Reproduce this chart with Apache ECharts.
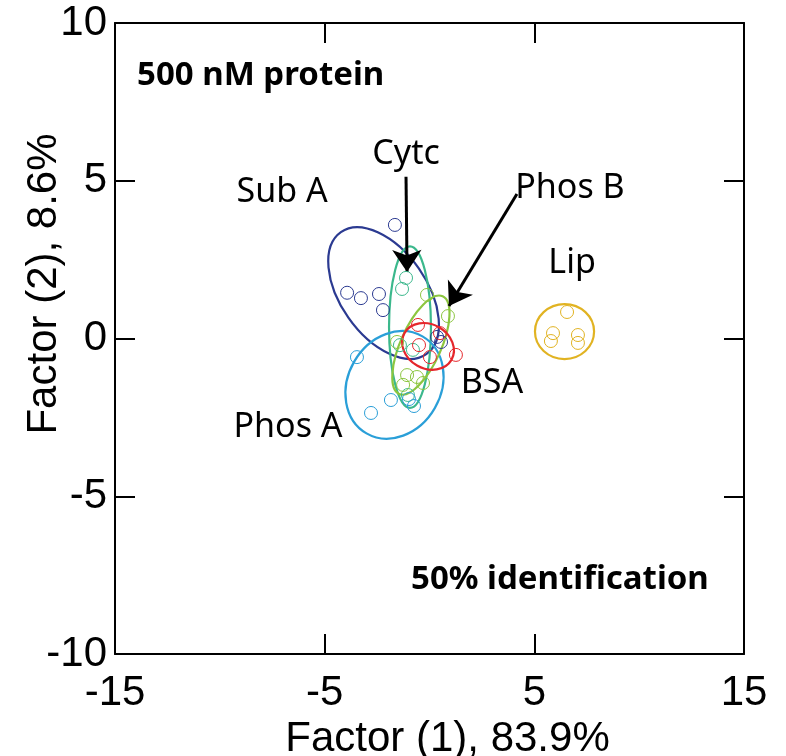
<!DOCTYPE html>
<html>
<head>
<meta charset="utf-8">
<script src="https://cdn.jsdelivr.net/npm/echarts@6/dist/echarts.min.js"></script>
<style>
  html, body { margin: 0; padding: 0; background: #fff; }
  #chart { width: 786px; height: 756px; }
</style>
</head>
<body>
<div id="chart"></div>
<script>
// axis ticks
let xTicks = [-15, -5, 5, 15];
let yTicks = [-10, -5, 0, 5, 10];

// sample points [factor1, factor2]
let subA = [[-1.65, 3.60], [-3.93, 1.45], [-3.27, 1.28], [-2.41, 1.41], [-2.22, 0.90], [0.36, 0.05], [0.55, -0.11]];
let cytc = [[-1.12, 1.92], [-1.31, 1.57], [-1.41, -0.21], [-0.79, -0.36], [-1.03, -1.79]];
let phosB = [[-0.12, 1.38], [0.88, 0.71], [-1.55, -0.11], [-1.07, -1.16], [-0.60, -1.22], [-1.26, -1.47], [-0.31, -1.41]];
let bsa = [[-0.55, 0.43], [-0.50, -0.21], [0.02, -0.59], [1.26, -0.52], [0.50, 0.17]];
let phosA = [[-3.46, -0.59], [-2.79, -2.36], [-1.84, -1.95], [-0.98, -1.92], [-0.74, -2.14]];
let lip = [[6.56, 0.84], [5.89, 0.17], [5.79, -0.08], [7.08, 0.11], [7.08, -0.14]];

// confidence ellipses [cx, cy, semiA, semiB (factor1 units), angle deg]
let subAEllipse = [-2.19, 1.44, 3.55, 2.05, -55];
let cytcEllipse = [-0.93, 0.36, 3.85, 1.0, 90];
let phosBEllipse = [-0.41, -0.21, 2.55, 0.97, 66];
let bsaEllipse = [-0.07, -0.25, 1.29, 1.05, -30];
let phosAEllipse = [-1.67, -1.47, 2.67, 2.22, 60];
let lipEllipse = [6.44, 0.22, 1.41, 1.31, 0];

// group labels and arrows
let groupNames = ['Sub A', 'Cytc', 'Phos B', 'Lip', 'BSA', 'Phos A'];
let labelPos = [[-7.03, 4.64], [-1.12, 5.85], [6.70, 4.76], [6.80, 2.37], [2.98, -1.41], [-6.75, -2.81]];
let arrows = [
    [[-1.12, 5.13], [-1.07, 2.11]],
    [[4.17, 4.58], [0.93, 1.03]]
];

let chart = echarts.init(document.getElementById('chart'));

function ellipseSeries(name, params, color) {
    return {
        name: name,
        type: 'custom',
        data: [params],
        silent: true,
        renderItem: function (p, api) {
            let c = api.coord([api.value(0), api.value(1)]);
            let unit = api.size([1, 0])[0];
            return {
                type: 'ellipse',
                x: c[0],
                y: c[1],
                rotation: api.value(4) * Math.PI / 180,
                shape: { cx: 0, cy: 0, rx: api.value(2) * unit, ry: api.value(3) * unit },
                style: { fill: 'none', stroke: color, lineWidth: 2.2 }
            };
        }
    };
}

function pointSeries(name, data, color) {
    return {
        name: name,
        type: 'scatter',
        data: data,
        symbol: 'circle',
        symbolSize: 13,
        itemStyle: { color: 'rgba(0,0,0,0)', borderColor: color, borderWidth: 1, opacity: 1 }
    };
}

let colors = {
    subA: '#2b3a91',
    cytc: '#3bb88c',
    phosB: '#8cc63f',
    bsa: '#e5262b',
    phosA: '#2a9fd8',
    lip: '#e1b322'
};

let tickFont = { color: '#000', fontSize: 42, fontFamily: 'Liberation Sans' };
let axisLine = { show: true, onZero: false, lineStyle: { color: '#000', width: 2 } };
let axisTick = { show: true, inside: true, length: 20, lineStyle: { color: '#000', width: 2 } };

let option = {
    backgroundColor: '#fff',
    animation: false,
    grid: { left: 115, right: 42, top: 23, bottom: 102, outerBoundsMode: 'none', containLabel: false },
    xAxis: [
        {
            type: 'value', min: -15, max: 15, interval: 10,
            axisLine: axisLine, axisTick: axisTick, splitLine: { show: false },
            axisLabel: Object.assign({ margin: 18 }, tickFont),
            name: 'Factor (1), 83.9%', nameLocation: 'middle', nameGap: 55,
            nameTextStyle: { color: '#000', fontSize: 42, fontFamily: 'Liberation Sans', padding: [0, 0, 0, 36] }
        },
        {
            type: 'value', position: 'top', min: -15, max: 15, interval: 10,
            axisLine: axisLine, axisTick: axisTick, axisLabel: { show: false }, splitLine: { show: false }
        }
    ],
    yAxis: [
        {
            type: 'value', min: -10, max: 10, interval: 5,
            axisLine: axisLine, axisTick: axisTick, splitLine: { show: false },
            axisLabel: Object.assign({ margin: 8 }, tickFont)
        },
        {
            type: 'value', position: 'right', min: -10, max: 10, interval: 5,
            axisLine: axisLine, axisTick: axisTick, axisLabel: { show: false }, splitLine: { show: false }
        }
    ],
    graphic: [
        {
            type: 'text', x: 44, y: 284, rotation: Math.PI / 2,
            style: { text: 'Factor (2), 8.6%', font: '42px "Liberation Sans"', fill: '#000',
                     align: 'center', verticalAlign: 'middle', textAlign: 'center', textVerticalAlign: 'middle' }
        },
        {
            type: 'text', x: 137, y: 76,
            style: { text: '500 nM protein', font: 'bold 33px "Noto Sans"', fill: '#000',
                     verticalAlign: 'middle', textVerticalAlign: 'middle' }
        },
        {
            type: 'text', x: 411, y: 580,
            style: { text: '50% identification', font: 'bold 33px "Noto Sans"', fill: '#000',
                     verticalAlign: 'middle', textVerticalAlign: 'middle' }
        }
    ],
    series: [
        ellipseSeries('Sub A ellipse', subAEllipse, colors.subA),
        ellipseSeries('Cytc ellipse', cytcEllipse, colors.cytc),
        ellipseSeries('Phos A ellipse', phosAEllipse, colors.phosA),
        ellipseSeries('Phos B ellipse', phosBEllipse, colors.phosB),
        ellipseSeries('BSA ellipse', bsaEllipse, colors.bsa),
        ellipseSeries('Lip ellipse', lipEllipse, colors.lip),
        pointSeries('Sub A', subA, colors.subA),
        pointSeries('Cytc', cytc, colors.cytc),
        pointSeries('Phos A', phosA, colors.phosA),
        pointSeries('Phos B', phosB, colors.phosB),
        pointSeries('BSA', bsa, colors.bsa),
        pointSeries('Lip', lip, colors.lip),
        {
            name: 'arrows',
            type: 'lines',
            coordinateSystem: 'cartesian2d',
            symbol: ['none', 'arrow'],
            symbolSize: [14, 22],
            lineStyle: { color: '#000', width: 3, opacity: 1 },
            data: arrows.map(a => ({ coords: a }))
        },
        {
            name: 'labels',
            type: 'scatter',
            symbolSize: 0,
            silent: true,
            itemStyle: { opacity: 1 },
            data: groupNames.map((n, i) => ({ name: n, value: labelPos[i] })),
            label: {
                show: true, position: 'inside', formatter: '{b}',
                color: '#000', opacity: 1, fontSize: 34, fontFamily: 'Noto Sans'
            }
        }
    ]
};

option && chart.setOption(option);
</script>
</body>
</html>
